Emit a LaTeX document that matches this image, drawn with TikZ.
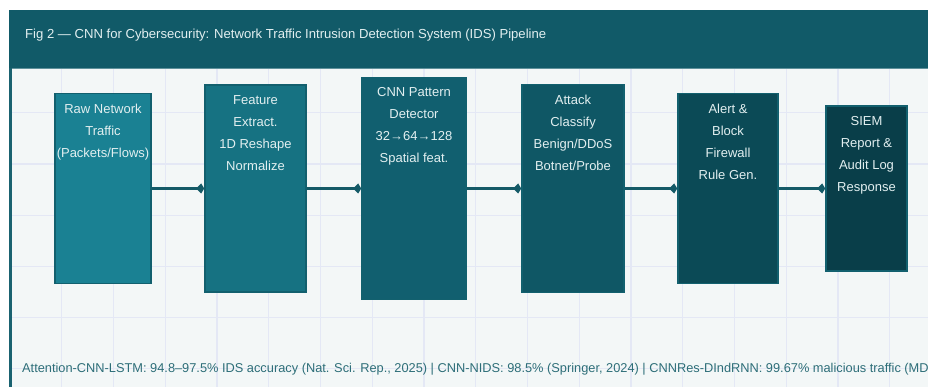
\documentclass[tikz,border=0pt]{standalone}
\usepackage{fontspec}
\setmainfont{Liberation Sans}
\usetikzlibrary{arrows.meta}
\definecolor{headc}{HTML}{115A68}
\definecolor{bgc}{HTML}{F3F7F7}
\definecolor{gridc}{HTML}{E4E8F5}
\definecolor{edgec}{HTML}{1A6270}
\definecolor{cA}{HTML}{1A8193}
\definecolor{cB}{HTML}{167282}
\definecolor{cC}{HTML}{115F6F}
\definecolor{cD}{HTML}{0F5765}
\definecolor{cE}{HTML}{0B4A56}
\definecolor{cF}{HTML}{093E49}
\definecolor{boxedge}{HTML}{12606E}
\definecolor{txtc}{HTML}{E2EFF0}
\definecolor{footc}{HTML}{2D6E78}
\definecolor{connc}{HTML}{145A67}
\tikzset{
  stagebox/.style={draw=boxedge, line width=1.6pt, inner sep=0pt},
  lbl/.style={text=txtc, font=\fontsize{13}{22}\selectfont, align=center, inner sep=0pt, anchor=north},
  conn/.style={draw=connc, line width=2.4pt, -{Kite[length=8pt,width=10pt,inset=5pt]}},
  gridline/.style={draw=gridc, line width=1.2pt}
}
\begin{document}
\begin{tikzpicture}[x=1pt,y=-1pt]
\useasboundingbox (0,0) rectangle (928,387);
\fill[white] (0,0) rectangle (928,387);
\fill[bgc] (10,68) rectangle (928,387);
\begin{scope}
\clip (10,68) rectangle (928,387);
\foreach \i in {1,...,17} \draw[gridline] ({10+51.75*\i},68) -- ({10+51.75*\i},387);
\foreach \j in {2,...,7} \draw[gridline] (10,{10.4+51.2*\j}) -- (928,{10.4+51.2*\j});
\end{scope}
\fill[headc] (9,10) rectangle (928,68);
\draw[color=edgec!70!white, line width=0.8pt] (10,68.4) -- (928,68.4);
\fill[edgec] (9,68) rectangle (12,387);
\node[anchor=west, text=txtc, font=\fontsize{13.1}{15}\selectfont, inner sep=0pt] (title) at (25,35) {Fig 2 — CNN for Cybersecurity: Network Traffic Intrusion Detection System (IDS) Pipeline};

\node[stagebox, fill=cA, minimum width=96pt, minimum height=190pt] (b1) at (103,188.5) {};
\node[stagebox, fill=cB, minimum width=101pt, minimum height=207pt] (b2) at (255.5,188.5) {};
\node[stagebox, fill=cC, minimum width=104pt, minimum height=222pt] (b3) at (414,188.5) {};
\node[stagebox, fill=cD, minimum width=102pt, minimum height=208pt] (b4) at (573,188.5) {};
\node[stagebox, fill=cE, minimum width=100pt, minimum height=190pt] (b5) at (728,188.5) {};
\node[stagebox, fill=cF, minimum width=81pt, minimum height=165pt] (b6) at (866.5,188.5) {};

\node[lbl] (t1) at ([yshift=-11pt]b1.north) {Raw Network\\Traffic\\(Packets/Flows)};
\node[lbl] (t2) at ([yshift=-11pt]b2.north) {Feature\\Extract.\\1D Reshape\\Normalize};
\node[lbl] (t3) at ([yshift=-11pt]b3.north) {CNN Pattern\\Detector\\32→64→128\\Spatial feat.};
\node[lbl] (t4) at ([yshift=-11pt]b4.north) {Attack\\Classify\\Benign/DDoS\\Botnet/Probe};
\node[lbl] (t5) at ([yshift=-11pt]b5.north) {Alert \&\\Block\\Firewall\\Rule Gen.};
\node[lbl] (t6) at ([yshift=-11pt]b6.north) {SIEM\\Report \&\\Audit Log\\Response};

\draw[conn] (b1.east) -- (b2.west);
\draw[conn] (b2.east) -- (b3.west);
\draw[conn] (b3.east) -- (b4.west);
\draw[conn] (b4.east) -- (b5.west);
\draw[conn] (b5.east) -- (b6.west);

\begin{scope}
\clip (0,0) rectangle (928,387);
\node[anchor=west, text=footc, font=\fontsize{12.8}{15}\selectfont, inner sep=0pt] (foot) at (22,369) {Attention-CNN-LSTM: 94.8–97.5\% IDS accuracy (Nat. Sci. Rep., 2025) | CNN-NIDS: 98.5\% (Springer, 2024) | CNNRes-DIndRNN: 99.67\% malicious traffic (MDPI};
\end{scope}
\end{tikzpicture}
\end{document}
